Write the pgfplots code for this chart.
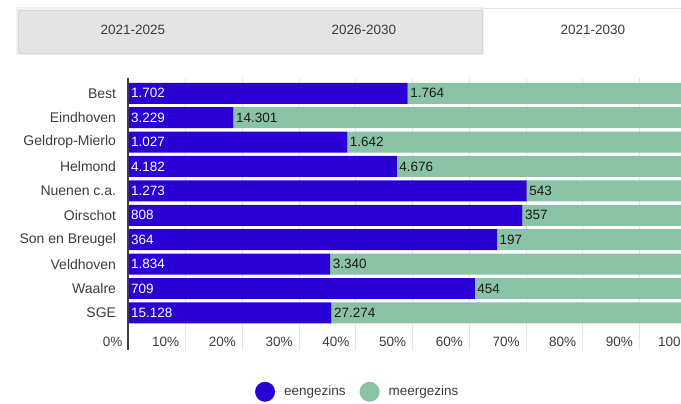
\documentclass[border=0pt]{standalone}
\usepackage{fontspec}
\setmainfont{Liberation Sans}
\usepackage{pgfplots}
\usepackage{pgfplotstable}
\pgfplotsset{compat=1.18}
\definecolor{een}{RGB}{42,0,213}
\definecolor{meer}{RGB}{138,194,165}
\definecolor{txt}{RGB}{60,60,60}
\definecolor{tabgray}{RGB}{228,228,228}
\definecolor{tabedge}{RGB}{214,214,214}
\newcommand\fs{\fontsize{13.5}{15}\selectfont}
\newcommand\fl{\fontsize{14}{16}\selectfont}

\pgfplotstableread[col sep=comma]{
idx,name,een,meer,eenN,meerN,zero
0,Best,49.11,50.89,1702,1764,0
1,Eindhoven,18.42,81.58,3229,14301,0
2,Geldrop-Mierlo,38.48,61.52,1027,1642,0
3,Helmond,47.21,52.79,4182,4676,0
4,Nuenen c.a.,70.10,29.90,1273,543,0
5,Oirschot,69.36,30.64,808,357,0
6,Son en Breugel,64.88,35.12,364,197,0
7,Veldhoven,35.45,64.55,1834,3340,0
8,Waalre,60.96,39.04,709,454,0
9,SGE,35.68,64.32,15128,27274,0
}\data

% axis spans x = 127.6pt ... 681pt in picture units (5.674pt per percent)
\pgfplotsset{common/.style={
  at={(127.6pt,50pt)}, anchor=south west,
  scale only axis, width=553.4pt, height=272pt,
  xmin=-0.25, xmax=97.28,
  ymin=-0.627, ymax=10.516, y dir=reverse,
  /pgf/number format/assume math mode=true,
}}

\begin{document}
\begin{tikzpicture}
\path (0pt,0pt) rectangle (681pt,400pt);
% tabs
\fill[black!6] (16pt,345pt) rectangle (484pt,393pt);
\filldraw[fill=tabgray, draw=tabedge] (18pt,347pt) rectangle (482pt,390pt);
\draw[black!10] (482pt,392pt) -- (681pt,392pt);
\node[text=txt, font=\fs] at (133pt,370pt) {2021-2025};
\node[text=txt, font=\fs] at (364pt,370pt) {2026-2030};
\node[text=txt, font=\fs] at (593pt,370pt) {2021-2030};

\begin{axis}[common,
  xbar stacked, bar width=21pt,
  axis lines*=left,
  x axis line style={draw=none},
  y axis line style={draw=black!75, line width=2pt},
  ytick={0,1,2,3,4,5,6,7,8,9},
  yticklabels from table={\data}{name},
  ytick style={draw=none},
  yticklabel style={text=txt, font=\fl, xshift=-8pt},
  xtick={0,10,20,30,40,50,60,70,80,90},
  xticklabel={\pgfmathprintnumber{\tick}\%},
  xticklabel style={anchor=east, text=txt, font=\fs, xshift=-3pt, yshift=8pt},
  xtick style={draw=none},
  xmajorgrids,
  grid style={draw=black!10, line width=1pt},
  legend columns=2,
  legend style={at={(0.416,-0.154)}, anchor=center,
    draw=none, fill=none, font=\fs, text=txt,
    /tikz/every even column/.append style={column sep=12pt}},
  legend image code/.code={\fill[#1, draw=none] (10pt,0pt) circle (10pt); \path (0pt,0pt) -- (27pt,0pt);},
]
\addplot[fill=een, draw=none] table[x=een, y=idx] {\data};
\addplot[fill=meer, draw=none] table[x=meer, y=idx] {\data};
\legend{eengezins, meergezins}
\node[anchor=east, text=txt, font=\fs, inner sep=0pt] at (axis cs:97.28,10.18) {100};
\end{axis}

\begin{axis}[common, hide axis]
\addplot[only marks, mark=none,
  nodes near coords={\pgfmathprintnumber[fixed, precision=0, 1000 sep={.}]{\pgfplotspointmeta}},
  point meta=explicit,
  every node near coord/.append style={text=white, anchor=west, font=\fs, inner sep=2pt}]
  table[x=zero, y=idx, meta=eenN] {\data};
\addplot[only marks, mark=none,
  nodes near coords={\pgfmathprintnumber[fixed, precision=0, 1000 sep={.}]{\pgfplotspointmeta}},
  point meta=explicit,
  every node near coord/.append style={text=black!90, anchor=west, font=\fs, inner sep=2.5pt}]
  table[x=een, y=idx, meta=meerN] {\data};
\end{axis}
\end{tikzpicture}
\end{document}
